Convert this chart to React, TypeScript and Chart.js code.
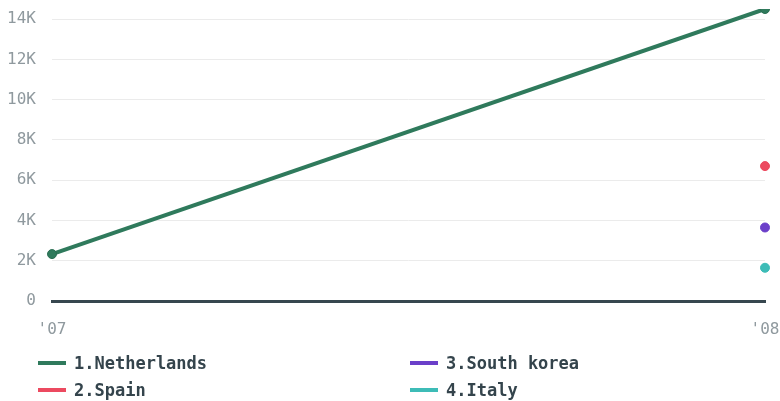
import React, { useEffect, useRef } from "react";
import { Chart, registerables } from "chart.js";

Chart.register(...registerables);

const categories = ["'07", "'08"];
const seriesNames = ["1.Netherlands", "2.Spain", "3.South korea", "4.Italy"];
const netherlands = [2330, 14500];
const spain = [null, 6700];
const southKorea = [null, 3650];
const italy = [null, 1650];
const colors = ["#2f7a5c", "#ec4a60", "#6b3fc9", "#3dbcb7"];
const yTicks = [0, 2000, 4000, 6000, 8000, 10000, 12000, 14000];

const FONT = "'DejaVu Sans Mono', monospace";

export default function App() {
  const ref = useRef<HTMLCanvasElement | null>(null);
  useEffect(() => {
    document.body.style.margin = "0";
    const values = [netherlands, spain, southKorea, italy];
    const chart = new Chart(ref.current!, {
      type: "line",
      data: {
        labels: categories,
        datasets: seriesNames.map((n, i) => ({
          label: n,
          data: values[i] as any,
          borderColor: colors[i],
          backgroundColor: colors[i],
          borderWidth: 4,
          pointRadius: 4.5,
          pointBorderWidth: 1,
          pointBorderColor: i === 0 ? "#2a6e52" : colors[i],
          pointBackgroundColor: colors[i],
          spanGaps: false,
        })),
      },
      options: {
        animation: false,
        responsive: false,
        maintainAspectRatio: false,
        layout: { padding: { top: 9, right: 15, left: 0, bottom: 0 } },
        plugins: { legend: { display: false }, tooltip: { enabled: false } },
        scales: {
          x: {
            offset: false,
            grid: { display: false, drawTicks: false },
            border: { display: true, color: "#37474f", width: 3 },
            ticks: {
              color: "#8f999e",
              font: { family: FONT, size: 16 },
              padding: 19,
              maxRotation: 0,
            },
            afterFit: (s: any) => {
              s.height = 44;
              s.paddingLeft = 0;
              s.paddingRight = 0;
            },
          },
          y: {
            min: 0,
            max: 14500,
            afterBuildTicks: (s: any) => {
              s.ticks = yTicks.map((v) => ({ value: v }));
            },
            grid: {
              drawTicks: false,
              color: (ctx: any) => (ctx.tick && ctx.tick.value === 0 ? "#37474f" : "#ebebeb"),
              lineWidth: (ctx: any) => (ctx.tick && ctx.tick.value === 0 ? 3 : 1),
            },
            border: { display: false },
            ticks: {
              color: "#8f999e",
              font: { family: FONT, size: 16 },
              padding: 16,
              callback: (v: any) => (v === 0 ? "0" : v / 1000 + "K"),
            },
            afterFit: (s: any) => {
              s.width = 52;
              s.paddingTop = 0;
              s.paddingBottom = 0;
            },
          },
        },
      },
    });
    return () => chart.destroy();
  }, []);

  const legendItem = (i: number) => (
    <div style={{ display: "flex", alignItems: "center", height: 27 }}>
      <span
        style={{
          display: "inline-block",
          width: 28,
          height: 4,
          background: colors[i],
          marginRight: 8,
        }}
      />
      <span style={{ fontFamily: FONT, fontWeight: "bold", fontSize: 17, color: "#34444c" }}>
        {seriesNames[i]}
      </span>
    </div>
  );

  return (
    <div style={{ position: "fixed", left: 0, top: 0, width: 780, height: 401, background: "#fff" }}>
      <canvas ref={ref} width={780} height={345} style={{ display: "block", width: 780, height: 345 }} />
      <div style={{ position: "absolute", left: 38, top: 349, display: "flex" }}>
        <div style={{ width: 372 }}>
          {legendItem(0)}
          {legendItem(1)}
        </div>
        <div>
          {legendItem(2)}
          {legendItem(3)}
        </div>
      </div>
    </div>
  );
}
